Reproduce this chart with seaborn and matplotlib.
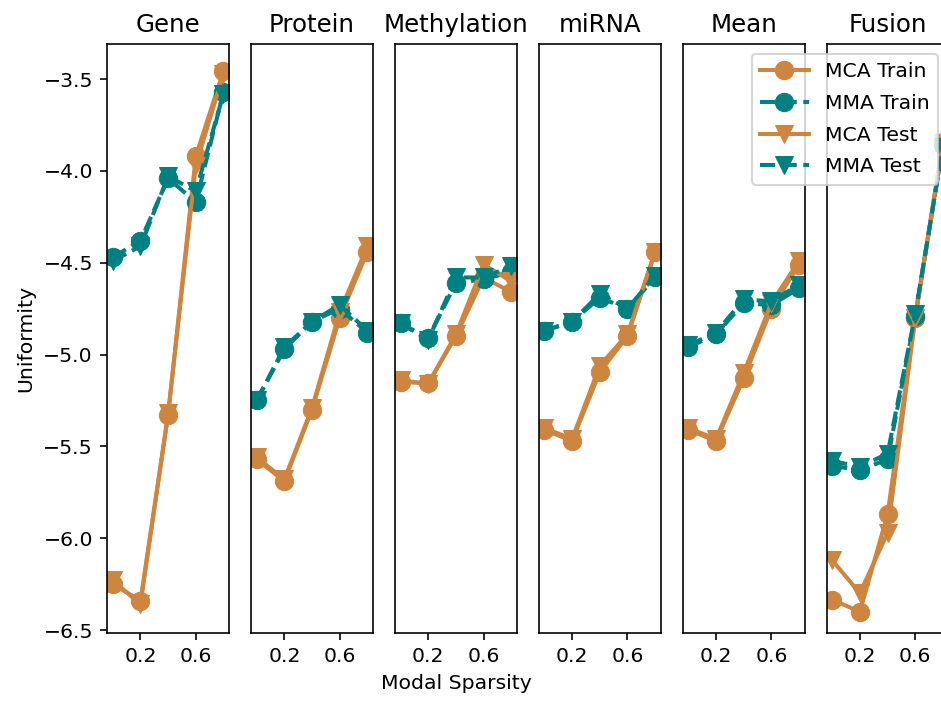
import matplotlib
matplotlib.use("Agg")
import matplotlib.pyplot as plt
import seaborn as sns
import numpy as np

sparsity = [0.0, 0.2, 0.4, 0.6, 0.8]
panels = ["Gene", "Protein", "Methylation", "miRNA", "Mean", "Fusion"]

mca_train = {
    "Gene":        [-6.25, -6.34, -5.33, -3.92, -3.455],
    "Protein":     [-5.57, -5.69, -5.30, -4.80, -4.44],
    "Methylation": [-5.15, -5.155, -4.90, -4.58, -4.66],
    "miRNA":       [-5.41, -5.47, -5.095, -4.90, -4.44],
    "Mean":        [-5.41, -5.47, -5.13, -4.75, -4.51],
    "Fusion":      [-6.335, -6.40, -5.87, -4.80, -3.84],
}
mma_train = {
    "Gene":        [-4.47, -4.38, -4.04, -4.17, -3.57],
    "Protein":     [-5.25, -4.97, -4.82, -4.75, -4.88],
    "Methylation": [-4.83, -4.91, -4.61, -4.59, -4.55],
    "miRNA":       [-4.87, -4.82, -4.69, -4.75, -4.58],
    "Mean":        [-4.96, -4.89, -4.72, -4.73, -4.64],
    "Fusion":      [-5.605, -5.63, -5.57, -4.79, -3.86],
}
mca_test = {
    "Gene":        [-6.23, -6.36, -5.32, -3.97, -3.47],
    "Protein":     [-5.56, -5.68, -5.29, -4.77, -4.41],
    "Methylation": [-5.14, -5.16, -4.89, -4.51, -4.60],
    "miRNA":       [-5.40, -5.46, -5.06, -4.89, -4.44],
    "Mean":        [-5.40, -5.46, -5.10, -4.72, -4.49],
    "Fusion":      [-6.12, -6.30, -5.97, -4.80, -3.85],
}
mma_test = {
    "Gene":        [-4.49, -4.41, -4.03, -4.11, -3.58],
    "Protein":     [-5.25, -4.96, -4.82, -4.73, -4.87],
    "Methylation": [-4.83, -4.92, -4.58, -4.58, -4.52],
    "miRNA":       [-4.87, -4.82, -4.67, -4.75, -4.57],
    "Mean":        [-4.95, -4.88, -4.70, -4.71, -4.62],
    "Fusion":      [-5.58, -5.61, -5.54, -4.78, -3.87],
}

yticks = [-6.5, -6.0, -5.5, -5.0, -4.5, -4.0, -3.5]
xticks = [0.2, 0.6]

MCA_COLOR = "#CD853F"
MMA_COLOR = "#008080"

series = [
    ("MCA Train", mca_train, MCA_COLOR, "o", "-"),
    ("MMA Train", mma_train, MMA_COLOR, "o", "--"),
    ("MCA Test", mca_test, MCA_COLOR, "v", "-"),
    ("MMA Test", mma_test, MMA_COLOR, "v", "--"),
]

fig, axes = plt.subplots(1, 6, sharey=True, figsize=(941 / 147, 702 / 147), dpi=147)
fig.subplots_adjust(left=0.1140, right=1.0079, bottom=0.0983, top=0.9373, wspace=0.182)

for ax, name in zip(axes, panels):
    for label, data, color, marker, ls in series:
        sns.lineplot(x=sparsity, y=data[name], ax=ax, color=color, marker=marker,
                     linestyle=ls, markersize=9, linewidth=2, label=label,
                     markeredgecolor=color, markeredgewidth=0.5)
    ax.set_title(name, fontsize=12)
    ax.set_xticks(xticks)
    ax.set_xticklabels([f"{t:.1f}" for t in xticks])
    ax.set_xlabel("")
    ax.set_ylabel("")
    leg = ax.get_legend()
    if leg is not None:
        leg.remove()

axes[0].set_yticks(yticks)
axes[0].set_ylim(-6.516, -3.309)
axes[0].set_ylabel("Uniformity", fontsize=10)
axes[2].set_xlabel("Modal Sparsity", fontsize=10)
for ax in axes[1:]:
    ax.tick_params(axis="y", left=False, labelleft=False)

axes[-1].legend(loc="upper right", fontsize=10, labelspacing=0.62, handlelength=2.4)

fig.savefig("out.png", dpi=147)
